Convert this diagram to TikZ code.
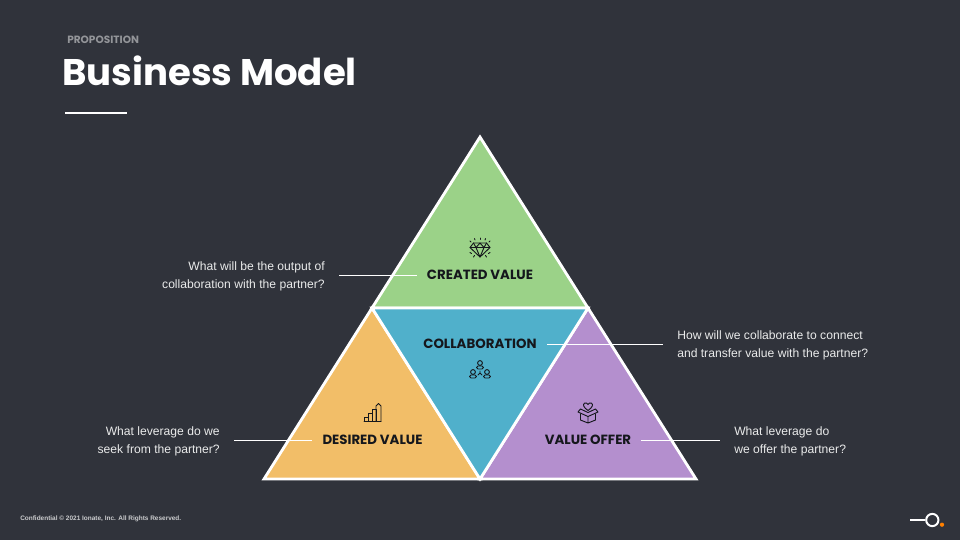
\documentclass[tikz,border=0pt]{standalone}
\usepackage{fontspec}
\setmainfont{Liberation Sans}
\newfontfamily\headfont{Poppins}
\usepackage{xcolor}
\usetikzlibrary{positioning, calc}
\definecolor{slide}{HTML}{30333B}
\definecolor{createdcol}{HTML}{9BD288}
\definecolor{collabcol}{HTML}{50B0CB}
\definecolor{desiredcol}{HTML}{F2BE68}
\definecolor{offercol}{HTML}{B48FCE}
\definecolor{inkcol}{HTML}{15171C}
\begin{document}
\begin{tikzpicture}[
    x=0.75pt, y=-0.75pt,
    wedge/.style={draw=white, line width=2.1pt, line join=miter},
    heading/.style={font=\headfont\bfseries\fontsize{10}{12}\selectfont, text=inkcol, inner sep=7.5pt},
    question/.style={font=\fontsize{9.1}{13.5}\selectfont, text=white!90!slide, inner sep=10.5pt},
    leader/.style={draw=white, line width=0.75pt},
    glyph/.style={draw=inkcol, line width=0.7pt, line join=round, line cap=round}
]
\fill[slide] (0,0) rectangle (960,540);
\useasboundingbox (0,0) rectangle (960,540);

% header
\node[font=\headfont\fontsize{7.9}{9}\selectfont\bfseries, text=white!48!slide, anchor=west, inner sep=0pt] (kicker) at (67,40) {PROPOSITION};
\node[font=\headfont\bfseries\fontsize{27.8}{30}\selectfont, text=white, anchor=west, inner sep=0pt] (title) at (62,70.5) {Business Model};
\coordinate (rulea) at (65,113);
\coordinate (ruleb) at (127,113);
\draw[white, line width=0.9pt] (rulea) -- (ruleb);

% triangle
\coordinate (apex) at (480,137);
\coordinate (midl) at (372,308);
\coordinate (midr) at (588,308);
\coordinate (botl) at (264,479);
\coordinate (botm) at (480,479);
\coordinate (botr) at (696,479);
\draw[wedge, fill=createdcol] (apex) -- (midr) -- (midl) -- cycle;
\draw[wedge, fill=desiredcol] (midl) -- (botm) -- (botl) -- cycle;
\draw[wedge, fill=offercol] (midr) -- (botr) -- (botm) -- cycle;
\draw[wedge, fill=collabcol] (midl) -- (midr) -- (botm) -- cycle;

% labels
\node[heading] (created) at (480,275) {CREATED VALUE};
\node[heading] (collab) at (480,344) {COLLABORATION};
\node[heading] (desired) at (372.5,440) {DESIRED VALUE};
\node[heading] (offer) at (588,440) {VALUE OFFER};

\node[question, align=right, anchor=east] (qcreated) at (339,276.5) {What will be the output of\\collaboration with the partner?};
\node[question, align=left, anchor=west] (qcollab) at (663,345) {How will we collaborate to connect\\and transfer value with the partner?};
\node[question, align=right, anchor=east] (qdesired) at (234,441.5) {What leverage do we\\seek from the partner?};
\node[question, align=left, anchor=west] (qoffer) at (720,441.5) {What leverage do\\we offer the partner?};

\draw[leader] (qcreated.east |- created.west) -- (created.west);
\draw[leader] (collab.east) -- (qcollab.west |- collab.east);
\draw[leader] (qdesired.east |- desired.west) -- (desired.west);
\draw[leader] (offer.east) -- (qoffer.west |- offer.east);

% diamond icon
\draw[glyph] (473.5,243) -- (486.5,243) -- (490,247.5) -- (480,257) -- (470,247.5) -- cycle;
\draw[glyph] (470,247.5) -- (490,247.5) (476,247.5) -- (480,257) -- (484,247.5) -- (476,247.5);
\draw[glyph] (473.5,243) -- (476,247.5) -- (480,243) -- (484,247.5) -- (486.5,243);
\foreach \ax/\ay/\bx/\by in {480/238/480/239.5, 474.5/238.5/475/240, 485.5/238.5/485/240, 470/241/471/242, 490/241/489/242, 470/252.5/471.5/253.5, 490/252.5/488.5/253.5, 473.5/257/474.5/255.5, 486.5/257/485.5/255.5}
    \draw[glyph] (\ax,\ay) -- (\bx,\by);

% people icon
\foreach \px/\py in {480/363, 473/372, 487/372} {
    \draw[glyph] (\px,\py) circle (2.4);
    \draw[glyph, rounded corners=1pt] (\px-3.4,\py+6) -- (\px-3.4,\py+3) -- (\px+3.4,\py+3) -- (\px+3.4,\py+6) -- cycle;
}
\draw[glyph] (480,371) -- (480,373) (478,375) -- (480,373) -- (482,375);

% chart icon
\draw[glyph] (364,421.5) -- (364,417) -- (368,417) -- (368,421.5) -- cycle;
\draw[glyph] (368,421.5) -- (368,413) -- (372,413) -- (372,421.5);
\draw[glyph] (372,421.5) -- (372,409) -- (376,409) -- (376,421.5);
\draw[glyph] (376,421.5) -- (376,406) -- (378.5,403.5) -- (381,406) -- (381,421.5) -- cycle;
\draw[glyph] (364,421.5) -- (381,421.5);

% gift icon
\draw[glyph] (588,410.5) .. controls (583.5,407.5) and (582.5,404.5) .. (584.5,403.2) .. controls (586,402.4) and (587.5,403.2) .. (588,404.5) .. controls (588.5,403.2) and (590,402.4) .. (591.5,403.2) .. controls (593.5,404.5) and (592.5,407.5) .. (588,410.5);
\draw[glyph] (588,412.5) -- (580.5,409) -- (578,412) -- (588,416.5) -- (598,412) -- (595.5,409) -- cycle;
\draw[glyph] (580.5,414) -- (580.5,420) -- (588,423) -- (595.5,420) -- (595.5,414) (588,416.5) -- (588,423);

% footer
\node[font=\fontsize{4.85}{6}\selectfont\bfseries, text=white!75!slide, anchor=west, inner sep=0pt] (note) at (20,519) {Confidential © 2021 Ionate, Inc. All Rights Reserved.};
\node[circle, draw=white, line width=1.5pt, minimum size=9.2pt, inner sep=0pt] (ring) at (932.3,520) {};
\coordinate (dash) at (910,520);
\draw[white, line width=1.5pt] (dash) -- (ring.west);
\node[circle, fill=orange, minimum size=3.2pt, inner sep=0pt] (spot) at (942,524.7) {};
\end{tikzpicture}
\end{document}
